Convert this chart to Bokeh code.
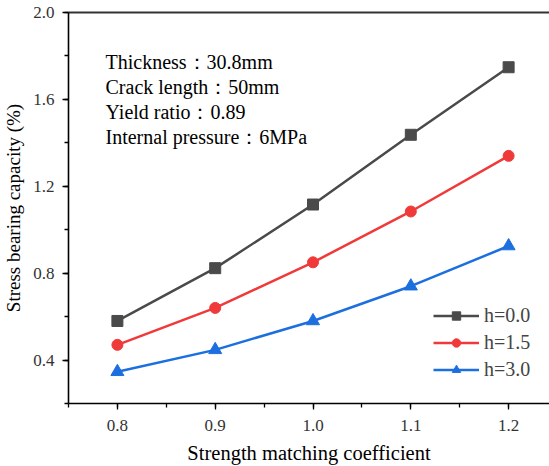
from bokeh.plotting import figure
from bokeh.models import (Legend, LegendItem, Label, LinearAxis, SingleIntervalTicker,
                          Range1d, FixedTicker, NumeralTickFormatter)
from bokeh.embed import file_html
from bokeh.resources import INLINE

coef = [0.8, 0.9, 1.0, 1.1, 1.2]
h00 = [0.58, 0.823, 1.116, 1.437, 1.748]
h15 = [0.47, 0.64, 0.85, 1.084, 1.34]
h30 = [0.346, 0.447, 0.58, 0.74, 0.925]
series_names = ["h=0.0", "h=1.5", "h=3.0"]
notes = ["Thickness\uff1a30.8mm", "Crack length\uff1a50mm", "Yield ratio\uff1a0.89",
         "Internal pressure\uff1a6MPa"]

FONT = "Liberation Serif"

p = figure(width=549, height=466, output_backend="svg", toolbar_location=None,
           x_range=Range1d(0.75, 1.2418), y_range=Range1d(0.2, 2.0),
           min_border_left=67, min_border_right=0, min_border_top=12,
           min_border_bottom=61, x_axis_location=None, y_axis_location=None)
p.outline_line_color = None
p.grid.visible = False
p.background_fill_color = "white"

xa = LinearAxis(ticker=SingleIntervalTicker(interval=0.1, num_minor_ticks=2),
                formatter=NumeralTickFormatter(format="0.0"))
ya = LinearAxis(ticker=SingleIntervalTicker(interval=0.4, num_minor_ticks=2),
                formatter=NumeralTickFormatter(format="0.0"))
for ax in (xa, ya):
    ax.axis_line_width = 1.6
    ax.axis_line_color = "black"
    ax.major_tick_line_width = 1.3
    ax.minor_tick_line_width = 1.3
    ax.major_tick_out = 6
    ax.major_tick_in = 0
    ax.minor_tick_out = 4
    ax.minor_tick_in = 0
    ax.major_label_text_font = FONT
    ax.major_label_text_font_size = "17px"
    ax.major_label_text_color = "#333333"
    ax.axis_label_text_font = FONT
    ax.axis_label_text_font_style = "normal"
    ax.axis_label_text_color = "black"
xa.axis_label = "Strength matching coefficient"
ya.axis_label = "Stress bearing capacity (%)"
xa.axis_label_text_font_size = "20.5px"
ya.axis_label_text_font_size = "19px"
xa.major_label_standoff = 10
xa.axis_label_standoff = 8
ya.major_label_standoff = 8
ya.axis_label_standoff = 6
p.add_layout(xa, "below")
p.add_layout(ya, "left")

top = LinearAxis(ticker=FixedTicker(ticks=[]))
top.major_tick_line_color = None
top.minor_tick_line_color = None
top.axis_line_width = 2.2
top.axis_line_color = "#333333"
p.add_layout(top, "above")

colors = ["#4a4a4a", "#f03a3a", "#1c6fdf"]
data = [h00, h15, h30]
markers = ["square", "circle", "triangle"]
sizes = [11, 11, 13]
items = []
for name, ys, c, m, s in zip(series_names, data, colors, markers, sizes):
    l = p.line(coef, ys, line_color=c, line_width=2.5)
    sc = p.scatter(coef, ys, marker=m, size=s, fill_color=c, line_color=c)
    items.append(LegendItem(label=name, renderers=[l, sc]))

legend = Legend(items=items, location=(365, 22), background_fill_alpha=0,
                border_line_color=None, label_text_font=FONT,
                label_text_font_size="20px", glyph_width=46, glyph_height=21,
                spacing=4, label_standoff=5, padding=4, margin=0)
p.add_layout(legend)

ys_screen = [342, 317, 292, 267]
for txt, yy in zip(notes, ys_screen):
    p.add_layout(Label(x=37, y=yy, x_units="screen", y_units="screen", text=txt,
                       text_font=FONT, text_font_size="20px", text_color="black",
                       text_baseline="middle"))

open("out.html", "w").write(file_html(p, INLINE))
